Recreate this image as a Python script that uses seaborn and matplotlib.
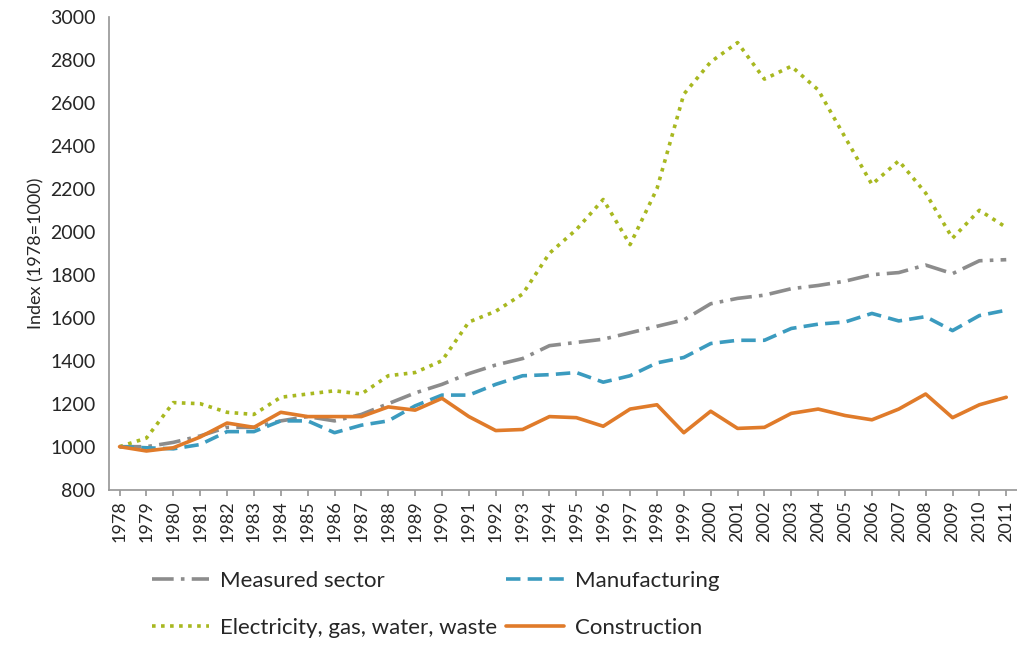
import matplotlib
matplotlib.use("Agg")
import matplotlib.pyplot as plt
import seaborn as sns
import pandas as pd

years = list(range(1978, 2012))
measured = [1000,1000,1020,1050,1090,1090,1120,1140,1120,1150,1200,1250,1290,1340,1380,1410,1470,1485,1500,1530,1560,1590,1665,1690,1705,1735,1750,1770,1800,1810,1845,1805,1865,1870]
manufacturing = [1000,995,990,1010,1070,1070,1120,1120,1065,1100,1120,1190,1240,1240,1290,1330,1335,1345,1300,1330,1390,1415,1480,1495,1495,1550,1570,1580,1620,1585,1605,1540,1610,1635]
electricity = [1000,1040,1205,1200,1160,1150,1230,1245,1260,1245,1330,1345,1400,1580,1630,1710,1900,2010,2150,1940,2200,2640,2790,2880,2710,2770,2660,2440,2220,2330,2180,1970,2100,2020]
construction = [1000,980,995,1045,1110,1090,1160,1140,1140,1140,1185,1170,1225,1140,1075,1080,1140,1135,1095,1175,1195,1065,1165,1085,1090,1155,1175,1145,1125,1175,1245,1135,1195,1230]

sns.set_theme(style="white")
plt.rcParams['font.family'] = ['Lato', 'DejaVu Sans']

fig = plt.figure(figsize=(10.17, 6.46), dpi=100)
ax = fig.add_axes([0.107, 0.242, 0.893, 0.732])

series = [("Measured sector", measured, "#8c8c8c", (0, (6, 2, 1, 2))),
          ("Electricity, gas, water, waste", electricity, "#a8b820", (0, (1, 1.5))),
          ("Manufacturing", manufacturing, "#3b9bbf", (0, (4, 2))),
          ("Construction", construction, "#e07b2a", "-")]
for name, vals, col, ls in series:
    sns.lineplot(x=years, y=vals, ax=ax, color=col, linestyle=ls, linewidth=2.6, label=name)

ax.set_xlim(1977.6, 2011.4)
ax.set_ylim(800, 3000)
ax.set_yticks(range(800, 3001, 200))
ax.set_xticks(years)
ax.set_xticklabels([str(y) for y in years], rotation=90, fontsize=13)
ax.tick_params(axis='y', labelsize=14)
ax.set_ylabel("Index (1978=1000)", fontsize=13)
for s in ["top", "right"]:
    ax.spines[s].set_visible(False)
for s in ["left", "bottom"]:
    ax.spines[s].set_color("#999999")
ax.tick_params(axis='x', bottom=True, length=4, color="#999999")
ax.legend(loc="upper left", bbox_to_anchor=(0.025, -0.13), ncol=2, frameon=False,
          fontsize=16, handlelength=2.6, handletextpad=0.5, columnspacing=0.4, labelspacing=1.2)
fig.savefig("out.png")
